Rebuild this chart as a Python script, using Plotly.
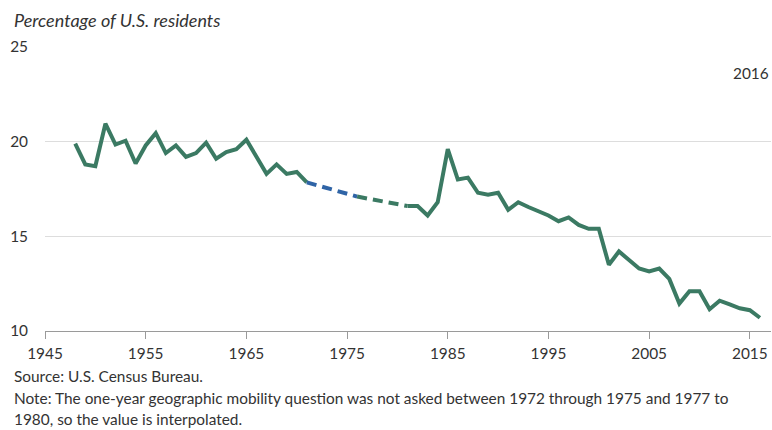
import plotly.graph_objects as go

# Solid series 1948-1971
years_a = list(range(1948, 1972))
vals_a = [19.9, 18.8, 18.7, 20.95, 19.85, 20.05, 18.85, 19.8, 20.45, 19.4,
          19.8, 19.2, 19.4, 19.95, 19.1, 19.45, 19.6, 20.1, 19.2, 18.3,
          18.8, 18.3, 18.4, 17.85]

# Interpolated segments
years_interp1 = [1971, 1976]
vals_interp1 = [17.85, 17.1]
years_interp2 = [1976, 1981]
vals_interp2 = [17.1, 16.6]

# Solid series 1981-2016
years_b = list(range(1981, 2017))
vals_b = [16.6, 16.6, 16.1, 16.8, 19.6, 18.0, 18.1, 17.3, 17.2, 17.3,
          16.4, 16.8, 16.55, 16.35, 16.1, 15.8, 16.0, 15.6, 15.4, 15.4,
          13.5, 14.2, 13.75, 13.3, 13.15, 13.3, 12.75, 11.45, 12.1, 12.1,
          11.15, 11.6, 11.4, 11.2, 11.1, 10.7]

x_ticks = [1945, 1955, 1965, 1975, 1985, 1995, 2005, 2015]
y_ticks = [10, 15, 20, 25]

GREEN = "#3b7a63"
BLUE = "#2f64a6"
FONT = "Lato"
TXT = "#333333"

fig = go.Figure()
fig.add_trace(go.Scatter(x=years_a, y=vals_a, mode="lines",
                         line=dict(color=GREEN, width=4), hoverinfo="skip"))
fig.add_trace(go.Scatter(x=years_interp1, y=vals_interp1, mode="lines",
                         line=dict(color=BLUE, width=4, dash="10px,6px"), hoverinfo="skip"))
fig.add_trace(go.Scatter(x=years_interp2, y=vals_interp2, mode="lines",
                         line=dict(color=GREEN, width=4, dash="10px,6px"), hoverinfo="skip"))
fig.add_trace(go.Scatter(x=years_b, y=vals_b, mode="lines",
                         line=dict(color=GREEN, width=4), hoverinfo="skip"))

L, R, T, B = 45, 1, 47, 99
W, H = 772, 430
pw, ph = W - L - R, H - T - B

def py(ypx):
    return (H - B - ypx) / ph

def px(xpx):
    return (xpx - L) / pw

fig.update_layout(
    width=W, height=H,
    margin=dict(l=L, r=R, t=T, b=B),
    paper_bgcolor="white", plot_bgcolor="white",
    showlegend=False,
    font=dict(family=FONT, size=15.4, color=TXT),
    xaxis=dict(range=[1945, 2017.1], tickvals=x_ticks, ticktext=[str(v) for v in x_ticks],
               showgrid=False, zeroline=False, showline=True, linecolor="#9a9a9a",
               linewidth=1, ticks="outside", ticklen=7, tickcolor="#9a9a9a",
               ticklabelstandoff=2,
               tickfont=dict(family=FONT, size=15.4, color=TXT)),
    yaxis=dict(range=[10, 25], tickvals=y_ticks, ticktext=[str(v) for v in y_ticks],
               showgrid=True, gridcolor="#dddddd", gridwidth=1, zeroline=False,
               showline=False, ticks="", ticklabelstandoff=16,
               tickfont=dict(family=FONT, size=15.4, color=TXT)),
)

annos = [
    dict(text="<i>Percentage of U.S. residents</i>", x=px(12), y=py(20),
         xanchor="left", yanchor="middle", font=dict(size=18)),
    dict(text="2016", x=px(771), y=py(73), xanchor="right", yanchor="middle"),
    dict(text="Source: U.S. Census Bureau.", x=px(12), y=py(376),
         xanchor="left", yanchor="middle"),
    dict(text="Note: The one-year geographic mobility question was not asked between 1972 through 1975 and 1977 to",
         x=px(12), y=py(398), xanchor="left", yanchor="middle"),
    dict(text="1980, so the value is interpolated.", x=px(12), y=py(419),
         xanchor="left", yanchor="middle"),
]
for a in annos:
    a.update(xref="paper", yref="paper", showarrow=False, align="left")
    fig.add_annotation(**a)

fig.write_html("out.html", config={"displayModeBar": False},
               post_script="document.body.style.margin='0';")
